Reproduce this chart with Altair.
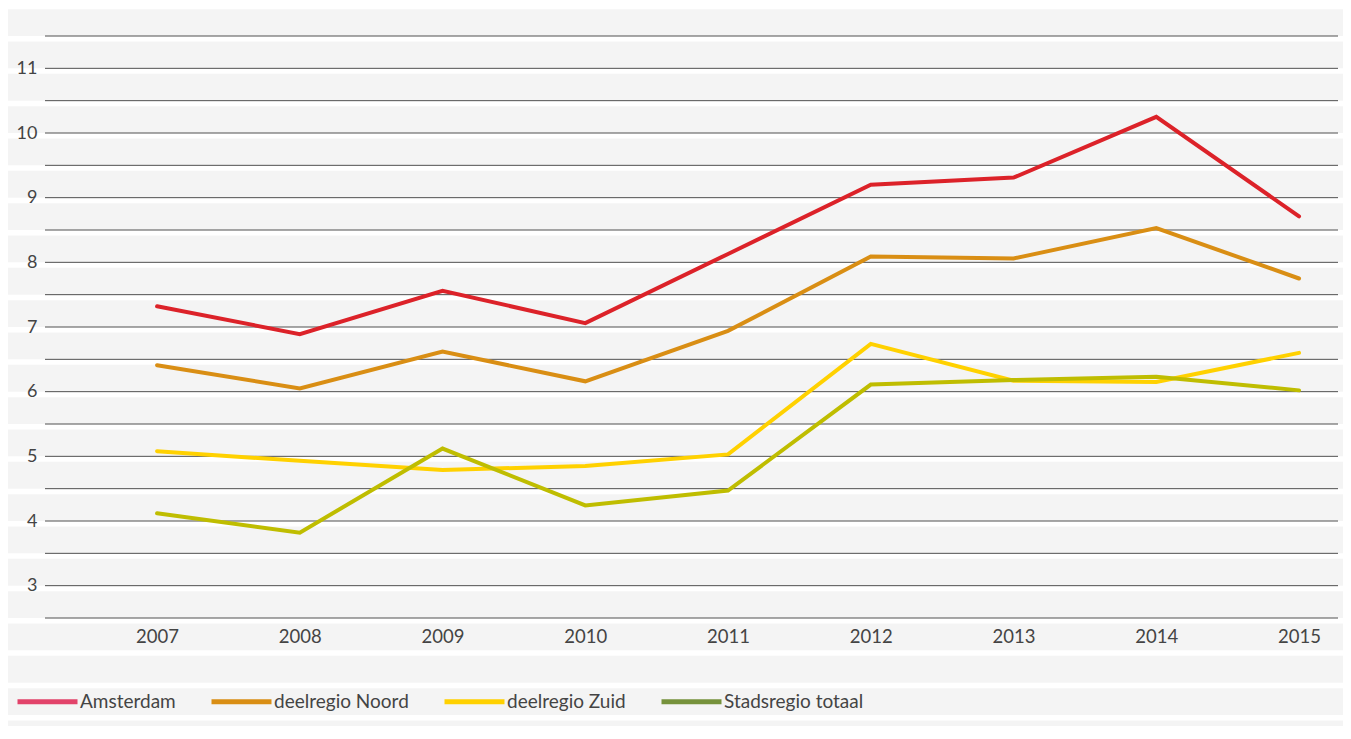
import altair as alt
import pandas as pd

years = [2007, 2008, 2009, 2010, 2011, 2012, 2013, 2014, 2015]
series_names = ["Amsterdam", "deelregio Noord", "deelregio Zuid", "Stadsregio totaal"]
amsterdam = [7.32, 6.89, 7.56, 7.06, 8.13, 9.20, 9.31, 10.25, 8.71]
noord = [6.41, 6.05, 6.62, 6.16, 6.94, 8.09, 8.06, 8.53, 7.75]
zuid = [5.08, 4.93, 4.79, 4.85, 5.03, 6.74, 6.17, 6.15, 6.60]
stadsregio = [4.12, 3.82, 5.12, 4.24, 4.47, 6.11, 6.18, 6.23, 6.02]

line_colors = ["#dc2229", "#d98e14", "#ffd100", "#bfbd00"]
legend_colors = ["#e2436a", "#d98e14", "#ffd100", "#76923c"]

y_labels = [3, 4, 5, 6, 7, 8, 9, 10, 11]
grid_values = [2.5, 3, 3.5, 4, 4.5, 5, 5.5, 6, 6.5, 7, 7.5, 8, 8.5, 9, 9.5, 10, 10.5, 11, 11.5]
stripe_values = [1.0, 1.5, 2.0] + grid_values + [12.0]

rows = []
for name, vals in zip(series_names, [amsterdam, noord, zuid, stadsregio]):
    for i, (yr, v) in enumerate(zip(years, vals)):
        rows.append({"jaar": yr, "waarde": v, "reeks": name, "ord": i})
df = pd.DataFrame(rows)

W, H = 1293, 582
FONT = "Lato"
TXT = "#444444"

xscale = alt.Scale(domain=[2006.215, 2015.273], nice=False, zero=False)
yscale = alt.Scale(domain=[2.5, 11.5], nice=False, zero=False)

yaxis = alt.Axis(values=y_labels, grid=False, domain=False, ticks=False,
                 labelPadding=8, labelFontSize=18, labelColor=TXT,
                 labelFont=FONT, title=None, zindex=2)
xaxis = alt.Axis(values=years, format="d", grid=False, domain=False, ticks=False,
                 labelPadding=9, labelFontSize=18.5, labelColor=TXT,
                 labelFont=FONT, labelFlush=False, labelOverlap=False, title=None, zindex=2)

stripes_df = pd.DataFrame({"v": stripe_values, "v2": [s - 0.085 for s in stripe_values]})
stripes = alt.Chart(stripes_df).mark_rect(color="white", clip=False).encode(
    y=alt.Y("v:Q", scale=yscale, axis=yaxis),
    y2="v2:Q",
    x=alt.value(-60),
    x2=alt.value(W + 60),
)

grid_df = pd.DataFrame({"g": grid_values})
grid = alt.Chart(grid_df).mark_rule(color="#505050", strokeWidth=1).encode(
    y=alt.Y("g:Q", scale=yscale, axis=yaxis),
)

lines = alt.Chart(df).mark_line(strokeWidth=4, strokeJoin="miter", strokeCap="round").encode(
    x=alt.X("jaar:Q", scale=xscale, axis=xaxis),
    y=alt.Y("waarde:Q", scale=yscale, axis=yaxis),
    color=alt.Color("reeks:N", scale=alt.Scale(domain=series_names, range=line_colors),
                    legend=None),
    order="ord:Q",
)

legend_layer = alt.Chart(df).mark_line(opacity=0).encode(
    x=alt.X("jaar:Q", scale=xscale, axis=xaxis),
    y=alt.Y("waarde:Q", scale=yscale, axis=yaxis),
    color=alt.Color("reeks:N", scale=alt.Scale(domain=series_names, range=legend_colors),
                    legend=alt.Legend(title=None, orient="none", direction="horizontal",
                                      legendX=-30, legendY=633, symbolType="stroke",
                                      symbolSize=3600, symbolStrokeWidth=5,
                                      symbolOpacity=1, zindex=2,
                                      labelFontSize=19, labelFont=FONT, labelColor=TXT,
                                      labelOffset=0, columnPadding=25, padding=0)),
)

chart = alt.layer(stripes, grid, legend_layer, lines).resolve_scale(color="independent").properties(
    width=W, height=H,
    autosize="none",
    padding={"left": 37, "top": 28, "right": 5, "bottom": 108},
).configure(background="#f4f4f4").configure_view(stroke=None, fill=None)

chart.save("out.html", embed_options={"renderer": "svg", "actions": False})
